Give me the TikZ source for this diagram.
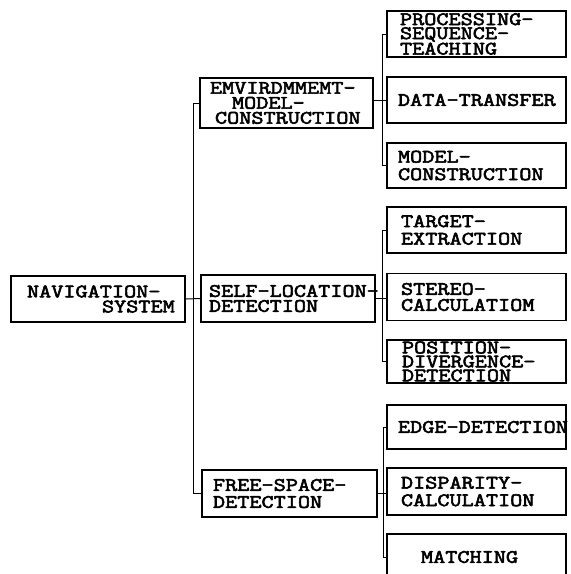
\documentclass[tikz,border=0pt]{standalone}
\usepackage{fontspec}
\newfontfamily\twfont{Latin Modern Mono}[FakeStretch=1.24, FakeBold=3]
\exhyphenpenalty=10000
\hyphenpenalty=10000
\tikzset{
  box/.style={draw, line width=1.6pt, align=left, inner ysep=0pt,
    font=\twfont\fontsize{19}{15}\selectfont},
  ls/.style={font=\twfont\fontsize{19}{#1}\selectfont},
  conn/.style={line width=1pt},
}
\begin{document}
\begin{tikzpicture}[x=1pt,y=-1pt]
\useasboundingbox (0,0) rectangle (571,574);
\clip (0,0) rectangle (571,574);
% level 0
\node[box, minimum width=174pt, minimum height=46pt, inner xsep=16pt, text width=142pt] (nav) at (98,299)
  {NAVIGATION-\\\hspace*{75pt}SYSTEM};
% level 1
\node[box, minimum width=173pt, minimum height=50pt, inner xsep=10pt, text width=153pt] (emv) at (286.5,103)
  {EMVIRDMMEMT-\\\hspace*{22pt}MODEL-\\\hspace*{5pt}CONSTRUCTION};
\node[box, minimum width=174pt, minimum height=47pt, inner xsep=8pt, text width=158pt] (self) at (288,298.5)
  {SELF-LOCATION-\\DETECTION};
\node[box, ls=17, minimum width=175pt, minimum height=47pt, inner xsep=11pt, text width=153pt] (free) at (289.5,493.5)
  {FREE-SPACE-\\DETECTION};
% level 2
\node[box, ls=14, minimum width=179pt, minimum height=46pt, inner xsep=13pt, text width=153pt] (proc) at (476.5,34)
  {PROCESSING-\\SEQUENCE-\\TEACHING};
\node[box, minimum width=179pt, minimum height=46pt, inner xsep=11pt, text width=157pt] (data) at (476.5,100)
  {DATA-TRANSFER};
\node[box, ls=17.5, minimum width=179pt, minimum height=45pt, inner xsep=11pt, text width=157pt] (modl) at (476.5,165.5)
  {MODEL-\\CONSTRUCTION};
\node[box, ls=17.5, minimum width=179pt, minimum height=46pt, inner xsep=14pt, text width=151pt] (targ) at (476.5,230)
  {TARGET-\\EXTRACTION};
\node[box, ls=16, minimum width=179pt, minimum height=47pt, inner xsep=14pt, text width=151pt] (ster) at (476.5,297)
  {STEREO-\\CALCULATIOM};
\node[box, ls=14, minimum width=179pt, minimum height=43pt, inner xsep=15pt, text width=149pt] (posi) at (476.5,361.5)
  {POSITION-\\DIVERGENCE-\\DETECTION};
\node[box, minimum width=179pt, minimum height=44pt, inner xsep=11pt, text width=157pt] (edge) at (476.5,427)
  {EDGE-DETECTION};
\node[box, ls=17.5, minimum width=179pt, minimum height=47pt, inner xsep=14pt, text width=151pt] (disp) at (476.5,491.5)
  {DISPARITY-\\CALCULATION};
\node[box, minimum width=179pt, minimum height=46pt, inner xsep=34pt, text width=111pt] (matc) at (476.5,557)
  {MATCHING};
% connectors: level 0 -> 1
\coordinate (b1) at (193,103);
\coordinate (b2) at (193,493.5);
\draw[conn] (emv.west) -- (b1) -- (b2) -- (free.west);
\draw[conn] (nav.east) -- (self.west);
% connectors: level 1 -> 2
\coordinate (c1) at (382,34);
\coordinate (c2) at (382,165.5);
\draw[conn] (proc.west) -- (c1) -- (c2) -- (modl.west);
\draw[conn] (emv.east |- data.west) -- (data.west);
\coordinate (d1) at (382,230);
\coordinate (d2) at (382,361.5);
\draw[conn] (targ.west) -- (d1) -- (d2) -- (posi.west);
\draw[conn] (self.east) -- (ster.west |- self.east);
\coordinate (e1) at (383,427);
\coordinate (e2) at (383,557);
\draw[conn] (edge.west) -- (e1) -- (e2) -- (matc.west);
\draw[conn] (free.east) -- (disp.west |- free.east);
\end{tikzpicture}
\end{document}
